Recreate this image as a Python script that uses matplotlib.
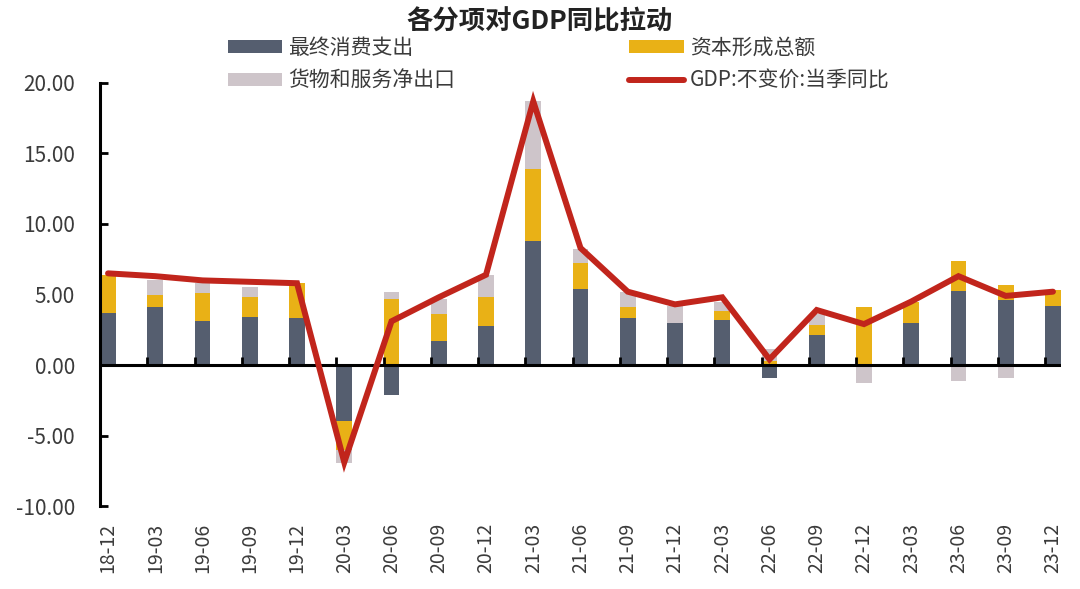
import matplotlib
matplotlib.use('Agg')
import matplotlib.pyplot as plt
import numpy as np

plt.rcParams['font.family'] = ['Noto Sans CJK SC', 'DejaVu Sans']
plt.rcParams['axes.unicode_minus'] = False

quarters = ['18-12', '19-03', '19-06', '19-09', '19-12', '20-03', '20-06',
            '20-09', '20-12', '21-03', '21-06', '21-09', '21-12', '22-03',
            '22-06', '22-09', '22-12', '23-03', '23-06', '23-09', '23-12']
consumption = [3.7, 4.1, 3.1, 3.4, 3.3, -4.0, -2.1, 1.7, 2.8, 8.8, 5.4,
               3.3, 3.0, 3.2, -0.95, 2.1, 0.0, 2.95, 5.25, 4.6, 4.15]
capital = [2.7, 0.9, 2.0, 1.4, 2.55, -2.0, 4.7, 1.95, 2.05, 5.1, 1.8,
           0.8, 0.0, 0.6, 0.25, 0.75, 4.1, 1.55, 2.1, 1.05, 1.2]
net_exports = [0.0, 1.0, 0.7, 0.75, 0.0, -0.95, 0.5, 1.05, 1.5, 4.85, 1.0,
               1.1, 1.2, 0.65, 0.9, 0.8, -1.3, 0.0, -1.15, -0.9, -0.15]
gdp = [6.5, 6.3, 6.0, 5.9, 5.8, -6.9, 3.1, 4.8, 6.4, 18.7, 8.3,
       5.2, 4.3, 4.8, 0.4, 3.9, 2.9, 4.5, 6.3, 4.9, 5.2]

c_dark = '#555e6f'
c_yellow = '#e9b116'
c_grey = '#cec5ca'
c_red = '#c1251c'
c_text = '#3b3b3b'

x = np.arange(len(quarters))
w = 0.33

fig = plt.figure(figsize=(10.8, 5.89), dpi=100)
ax = fig.add_axes([0.0926, 0.1409, 0.8898, 0.7182])

# stack positives upward and negatives downward separately
pos_base = np.zeros(len(x))
neg_base = np.zeros(len(x))
bars = []
for vals, col in [(consumption, c_dark), (capital, c_yellow), (net_exports, c_grey)]:
    v = np.array(vals)
    bottom = np.where(v >= 0, pos_base, neg_base)
    b = ax.bar(x, v, w, bottom=bottom, color=col, zorder=2)
    bars.append(b)
    pos_base = pos_base + np.where(v >= 0, v, 0)
    neg_base = neg_base + np.where(v < 0, v, 0)

ax.axhline(0, color='black', lw=2.2, zorder=3)
line, = ax.plot(x, gdp, color=c_red, lw=4.3, zorder=5, solid_joinstyle='miter',
                solid_capstyle='round')

ax.set_xlim(-0.17, 20.17)
ax.set_ylim(-10, 20)
ax.set_yticks(np.arange(-10, 21, 5))
ax.yaxis.set_major_formatter(matplotlib.ticker.FormatStrFormatter('%.2f'))
ax.tick_params(axis='y', direction='in', length=6, width=2, pad=18,
               labelsize=15, labelcolor=c_text)
ax.set_xticks(x)
ax.set_xticklabels(quarters, rotation=90)
ax.tick_params(axis='x', length=0, pad=12, labelsize=14, labelcolor=c_text)

for s in ['top', 'right', 'bottom']:
    ax.spines[s].set_visible(False)
ax.spines['left'].set_linewidth(2.2)

# category ticks sitting on the zero line
sec = ax.secondary_xaxis(0, transform=ax.transData)
sec.set_xticks(x[1:] - 0.165)
sec.set_xticklabels([])
sec.tick_params(direction='in', length=6, width=2)
sec.spines['bottom'].set_visible(False)
sec.spines['top'].set_visible(False)
sec.set_zorder(4)

fig.text(0.5, 0.962, '各分项对GDP同比拉动', ha='center', va='center',
         fontsize=19, fontweight='bold', color='#222222')

leg = fig.legend([bars[0], bars[2], bars[1], line],
                 ['最终消费支出', '货物和服务净出口', '资本形成总额', 'GDP:不变价:当季同比'],
                 ncol=2, loc='upper left', bbox_to_anchor=(0.211, 0.938),
                 frameon=False, fontsize=15, handlelength=2.6, handleheight=0.6,
                 handletextpad=0.3, columnspacing=8.36, labelspacing=0.54,
                 borderpad=0, borderaxespad=0)
for t in leg.get_texts():
    t.set_color(c_text)

fig.savefig('out.png', dpi=100)
